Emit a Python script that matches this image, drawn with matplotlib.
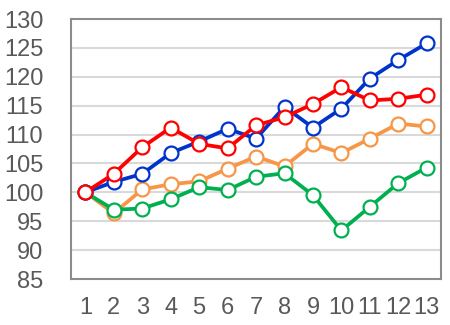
import matplotlib
matplotlib.use("Agg")
import matplotlib.pyplot as plt

# Data
x = list(range(1, 14))
blue = [100, 101.8, 103.2, 106.8, 108.8, 111.0, 109.3, 114.8, 111.2, 114.5, 119.7, 122.9, 125.8]
red = [100, 103.2, 107.8, 111.2, 108.4, 107.6, 111.6, 113.0, 115.3, 118.2, 115.9, 116.2, 116.9]
orange = [100, 96.4, 100.5, 101.4, 101.9, 104.1, 106.2, 104.5, 108.4, 106.8, 109.3, 111.9, 111.4]
green = [100, 97.0, 97.2, 98.8, 100.9, 100.4, 102.7, 103.3, 99.5, 93.4, 97.5, 101.6, 104.3]
yticks = list(range(85, 131, 5))

plt.rcParams["font.family"] = ["Liberation Sans", "DejaVu Sans"]

fig = plt.figure(figsize=(4.5, 3.25), dpi=100)
ax = fig.add_axes([0.158, 0.1415, 0.822, 0.8])

series = [
    (orange, "#f79646"),
    (green, "#00b050"),
    (blue, "#0033cc"),
    (red, "#ff0000"),
]
for vals, col in series:
    ax.plot(x, vals, color=col, lw=2.7, marker="o", ms=10,
            mfc="white", mec=col, mew=1.6, zorder=3)

ax.set_xlim(0.5, 13.5)
ax.set_ylim(85, 130)
ax.set_xticks(x)
ax.set_yticks(yticks)
ax.grid(axis="y", color="#d9d9d9", lw=1.5)
ax.set_axisbelow(True)
for s in ax.spines.values():
    s.set_color("#8c8c8c")
    s.set_linewidth(1.5)
ax.tick_params(length=0, labelsize=17, labelcolor="#595959")
ax.tick_params(axis="y", pad=20)
ax.tick_params(axis="x", pad=13)

fig.savefig("out.png", dpi=100)
